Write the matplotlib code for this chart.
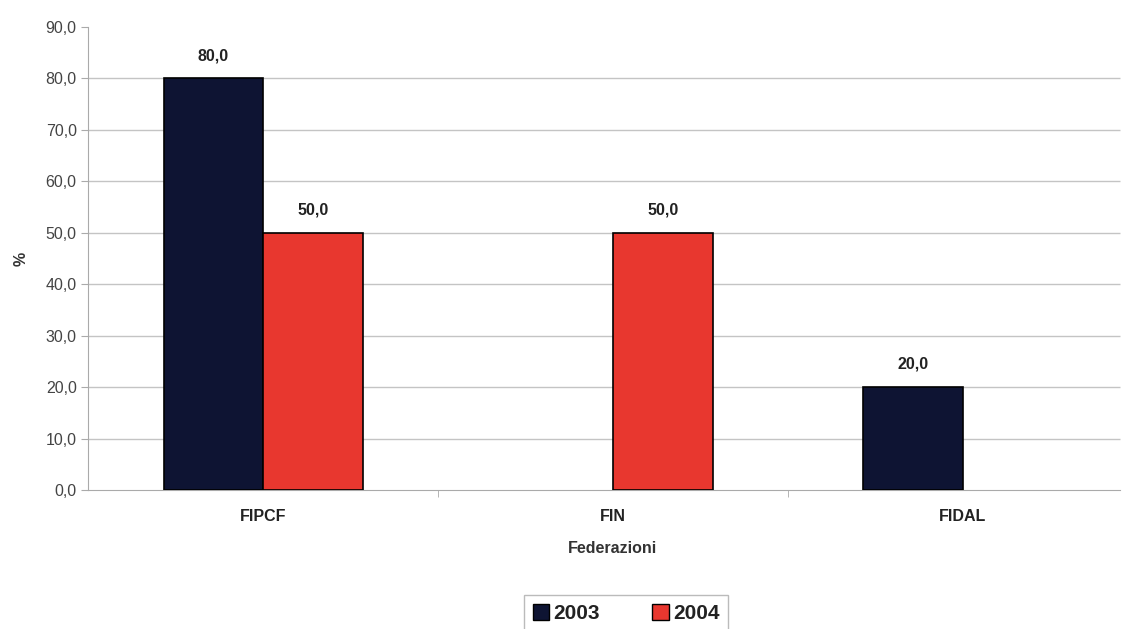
import matplotlib
matplotlib.use("Agg")
import matplotlib.pyplot as plt
import numpy as np

plt.rcParams['font.family'] = ['Liberation Sans', 'DejaVu Sans']

federazioni = ['FIPCF', 'FIN', 'FIDAL']
anni = ['2003', '2004']
val_2003 = [80.0, 0.0, 20.0]
val_2004 = [50.0, 50.0, 0.0]
colori = ['#0e1433', '#e8372f']

def fmt(v):
    return ('%.1f' % v).replace('.', ',')

fig = plt.figure(figsize=(11.34, 6.29), dpi=100)
ax = fig.add_axes([0.078, 0.221, 0.925, 0.736])

x = np.arange(len(federazioni))
w = 0.285
serie = [val_2003, val_2004]
for i, vals in enumerate(serie):
    pos = x + (i - 0.5) * w
    # only draw the non-zero bars, like the original
    for p, v in zip(pos, vals):
        if v == 0:
            continue
        ax.bar(p, v, width=w, color=colori[i], edgecolor='black', linewidth=1.2, zorder=3)
        ax.text(p, v + 3, fmt(v), ha='center', va='bottom', fontsize=11.5,
                fontweight='bold', color='#222222')

ticks = np.arange(0, 91, 10)
ax.set_ylim(0, 90)
ax.set_xlim(-0.5, 2.5)
ax.set_yticks(ticks)
ax.set_yticklabels([fmt(t) for t in ticks], fontsize=11.5, color='#444444')
# gridlines without the top one
ax.hlines(ticks[1:-1], -0.5, 2.45, color='#c4c4c4', linewidth=1, zorder=1)

ax.set_xticks(x)
ax.set_xticklabels(federazioni, fontsize=11.5, fontweight='bold', color='#222222')
ax.set_xticks([0.5, 1.5], minor=True)
ax.tick_params(axis='x', which='major', length=0, pad=14)
ax.tick_params(axis='x', which='minor', length=5, color='#aaaaaa', direction='out')
ax.tick_params(axis='y', length=5, color='#aaaaaa')

for s in ['top', 'right']:
    ax.spines[s].set_visible(False)
ax.spines['left'].set_color('#aaaaaa')
ax.spines['bottom'].set_color('#aaaaaa')
ax.spines['bottom'].set_bounds(-0.5, 2.45)

ax.set_xlabel('Federazioni', fontsize=11.5, fontweight='bold', color='#333333', labelpad=12)
ax.set_ylabel('%', fontsize=11.5, fontweight='bold', color='#333333', labelpad=12)

handles = [plt.Rectangle((0, 0), 1, 1, facecolor=c, edgecolor='black') for c in colori]
leg = fig.legend(handles, anni, loc='lower center', bbox_to_anchor=(0.552, -0.02), ncol=2,
                 fontsize=15, frameon=True, fancybox=False, edgecolor='#aaaaaa',
                 handlelength=0.8, handleheight=0.8, handletextpad=0.2, columnspacing=2.5,
                 borderpad=0.4)
for t in leg.get_texts():
    t.set_fontweight('bold')
    t.set_color('#222222')

fig.savefig('out.png', dpi=100)
